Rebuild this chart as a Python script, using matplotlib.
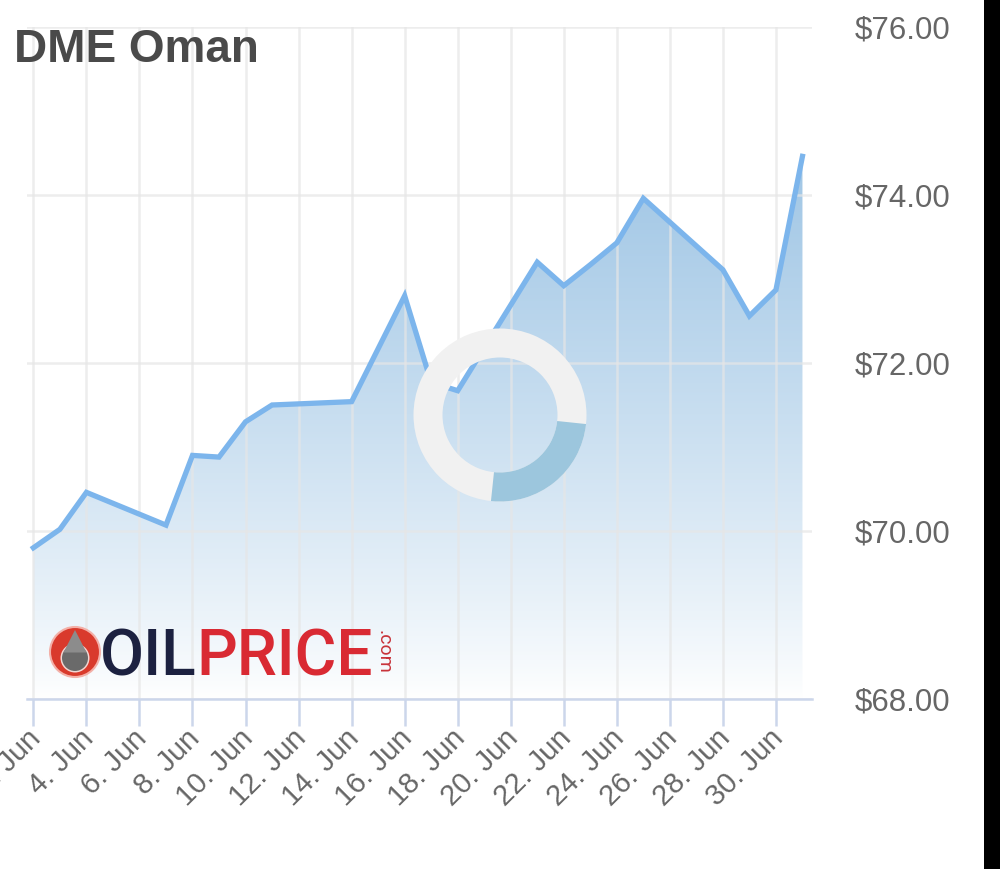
import numpy as np
import matplotlib
matplotlib.use("Agg")
import matplotlib.pyplot as plt
import matplotlib.dates as mdates
from matplotlib.patches import Wedge, Circle, Polygon, Rectangle
from matplotlib.transforms import IdentityTransform, ScaledTranslation

# ---------------- data ----------------
dates = ["2021-06-02", "2021-06-03", "2021-06-04", "2021-06-07", "2021-06-08",
         "2021-06-09", "2021-06-10", "2021-06-11", "2021-06-14", "2021-06-15",
         "2021-06-16", "2021-06-17", "2021-06-18", "2021-06-21", "2021-06-22",
         "2021-06-23", "2021-06-24", "2021-06-25", "2021-06-28", "2021-06-29",
         "2021-06-30", "2021-07-01"]
prices = [69.80, 70.02, 70.46, 70.07, 70.90, 70.88, 71.30, 71.50, 71.54, 72.17,
          72.80, 71.77, 71.67, 73.20, 72.92, 73.17, 73.43, 73.96, 73.11, 72.56,
          72.87, 74.46]
tick_dates = ["2021-06-%02d" % d for d in range(2, 31, 2)]
tick_labels = ["%d. Jun" % d for d in range(2, 31, 2)]
y_ticks = [68, 70, 72, 74, 76]
y_labels = [r"\$68.00", r"\$70.00", r"\$72.00", r"\$74.00", r"\$76.00"]
title = "DME Oman"

# ---------------- figure ----------------
W, H = 1000, 869
fig = plt.figure(figsize=(W / 100, H / 100), dpi=100)
fig.patch.set_facecolor("white")

ax = fig.add_axes([27 / W, 170 / H, 785 / W, 672 / H])
ax.set_facecolor("white")

x = mdates.date2num(np.array(dates, dtype="datetime64[D]"))
y = np.array(prices)
x0 = x[0]

# gradient fill
ymax = y.max()
n = 256
t = np.linspace(0, 1, n) ** 0.85
top = np.array([160, 198, 229]) / 255.0
rgba = np.ones((n, 1, 4))
for k in range(3):
    rgba[:, 0, k] = 1.0 + t * (top[k] - 1.0)
verts = [(x[0], 68)] + list(zip(x, y)) + [(x[-1], 68)]
poly = Polygon(verts, closed=True, facecolor="none", edgecolor="none",
               transform=ax.transData)
ax.add_patch(poly)
im = ax.imshow(rgba, extent=[x[0], x[-1], 68, ymax], origin="lower",
               aspect="auto", zorder=1, interpolation="bilinear")
im.set_clip_path(poly)

ax.plot(x, y, color="#7cb5ec", lw=3.8, zorder=3, solid_joinstyle="miter")

ax.set_xlim(x0 - 0.24, x0 + 29.36)
ax.set_ylim(68, 76)

# axes styling
for s in ax.spines.values():
    s.set_visible(False)
ax.spines["bottom"].set_visible(True)
ax.spines["bottom"].set_color("#ccd6eb")
ax.spines["bottom"].set_linewidth(1.8)
ax.spines["bottom"].set_zorder(5)

xt = mdates.date2num(np.array(tick_dates, dtype="datetime64[D]"))
ax.set_xticks(xt)
ax.set_xticklabels(tick_labels, rotation=45, ha="right", va="center",
                   rotation_mode="anchor", fontsize=21, color="#666666",
                   family=["Liberation Sans", "DejaVu Sans"])
ax.tick_params(axis="x", length=19.4, width=1.8, color="#ccd6eb", pad=6)
off = ScaledTranslation(3 / 100, 0, fig.dpi_scale_trans)
for lab in ax.get_xticklabels():
    lab.set_transform(lab.get_transform() + off)

ax.yaxis.tick_right()
ax.set_yticks(y_ticks)
ax.set_yticklabels(y_labels, fontsize=22.5, color="#666666",
                   family=["Liberation Sans", "DejaVu Sans"])
ax.tick_params(axis="y", length=0, pad=31)

ax.grid(True, color="#e6e6e6", lw=1.8, zorder=2, alpha=0.7)
for gl in ax.get_xgridlines() + ax.get_ygridlines():
    gl.set_zorder(2)

# title
fig.text(14 / W, (H - 62) / H, title, fontsize=33, fontweight="bold",
         color="#4a4a4a", family=["Liberation Sans", "DejaVu Sans"],
         ha="left", va="baseline")

# loading spinner overlay (pixel coords)
cx, cy = 500, H - 415
fig.patches.append(Wedge((cx, cy), 86.5, 0, 360, width=29, facecolor="#f1f1f1",
                         edgecolor="none", transform=IdentityTransform(),
                         figure=fig, zorder=10))
fig.patches.append(Wedge((cx, cy), 86.5, -96, -6, width=29, facecolor="#9cc6dd",
                         edgecolor="none", transform=IdentityTransform(),
                         figure=fig, zorder=11))

# OILPRICE.com watermark logo
lx, ly = 75, H - 652
fig.patches.append(Circle((lx, ly), 25, facecolor="#d93a2c", edgecolor="#f3b0a8",
                          lw=1.5, transform=IdentityTransform(), figure=fig, zorder=6))
fig.patches.append(Circle((lx, ly - 6), 14.5, facecolor="#f2d6d2", edgecolor="none",
                          transform=IdentityTransform(), figure=fig, zorder=6.5))
fig.patches.append(Circle((lx, ly - 6), 13, facecolor="#6a6a6a", edgecolor="none",
                          transform=IdentityTransform(), figure=fig, zorder=7))
fig.patches.append(Polygon([(lx - 11.5, ly - 0.5), (lx, ly + 22), (lx + 11.5, ly - 0.5)],
                           closed=True, facecolor="#8c8c8c", edgecolor="none",
                           transform=IdentityTransform(), figure=fig, zorder=7))
fig.text(100 / W, (H - 676) / H, "OIL", fontsize=46, color="#1c2140",
         fontweight="medium", family=["Roboto", "Liberation Sans"], ha="left",
         va="baseline", zorder=8)
fig.text(196 / W, (H - 676) / H, "PRICE", fontsize=46, color="#d92a33",
         fontweight="medium", family=["Roboto", "Liberation Sans"], ha="left",
         va="baseline", zorder=8)
fig.text(393 / W, (H - 630) / H, ".com", fontsize=14, color="#c8333a",
         rotation=-90, family=["Roboto", "Liberation Sans"],
         ha="right", va="top", zorder=8)

# dark strip on the right edge
fig.patches.append(Rectangle((984 / W, 0), 16 / W, 1, facecolor="black",
                             edgecolor="none", transform=fig.transFigure,
                             figure=fig, zorder=20))

fig.savefig("out.png", dpi=100, facecolor="white")
